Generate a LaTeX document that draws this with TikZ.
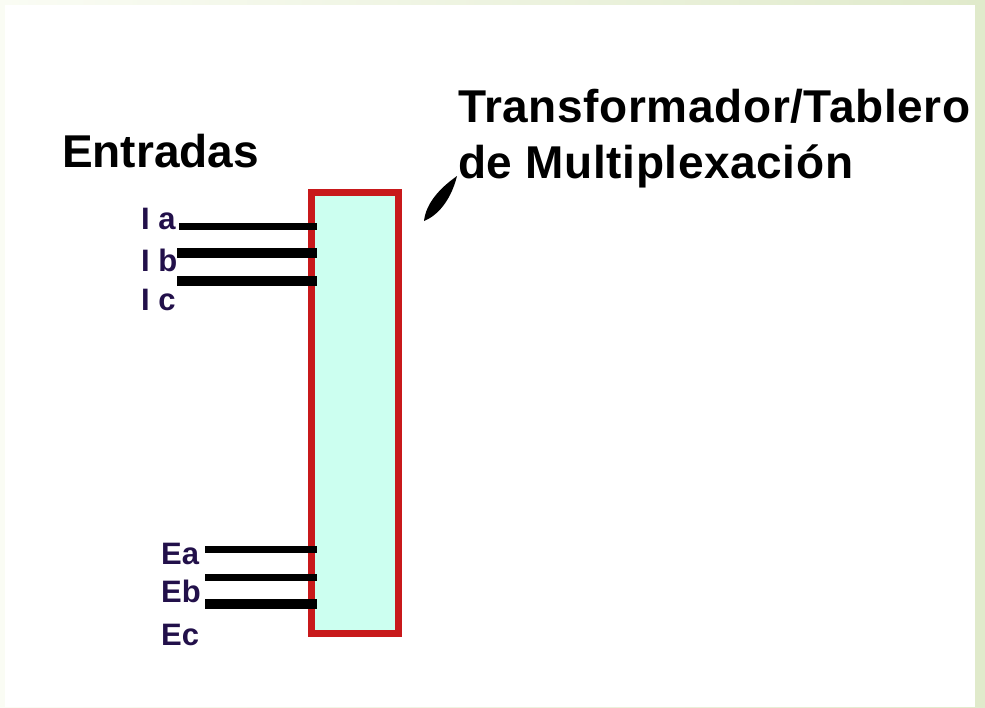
\documentclass[tikz,border=0pt]{standalone}
\usepackage{fontspec}
\setmainfont{Liberation Sans}
\definecolor{boxred}{HTML}{C8191B}
\definecolor{boxfill}{HTML}{CCFFF0}
\definecolor{lblcol}{HTML}{22104A}
\definecolor{frameL}{HTML}{FAFCF4}
\definecolor{frameR}{HTML}{E0EACB}
\tikzset{
  wire/.style={line width=7pt},
  thickwire/.style={line width=9.5pt},
  lbl/.style={font=\fontsize{31}{31}\selectfont\bfseries, text=lblcol, inner sep=0pt, anchor=west},
  heading/.style={font=\fontsize{46}{46}\selectfont\bfseries, inner sep=0pt, anchor=base west},
  title/.style={heading, font=\fontsize{46}{46}\selectfont\bfseries\addfontfeatures{LetterSpace=1.3}},
  muxbox/.style={draw=boxred, fill=boxfill, line width=7pt, rectangle, minimum width=87pt, minimum height=441pt, outer sep=0pt, inner sep=0pt}
}
\begin{document}
\begin{tikzpicture}[x=1pt,y=-1pt]
\useasboundingbox (0,0) rectangle (985,707);
\shade[left color=frameL, right color=frameR] (0,0) rectangle (985,707);
\fill[white] (5,5) rectangle (975,707);

\node[muxbox] (box) at (355,413) {};

\node[heading] (entr) at (62,167) {Entradas};
\node[title] (t1) at (458,122) {Transformador/Tablero};
\node[title] (t2) at (458,178) {de Multiplexación};

\fill (424,221) .. controls (426,203) and (440,188) .. (457,176)
      .. controls (452,196) and (441,214) .. cycle;

\node[lbl] (la) at (141,219) {I a};
\node[lbl] (lb) at (141,260) {I b};
\node[lbl] (lc) at (141,300) {I c};
\node[lbl] (le1) at (161,554) {Ea};
\node[lbl] (le2) at (161,591) {Eb};
\node[lbl] (le3) at (161,635) {Ec};

\coordinate (ia) at (179,226.5);
\coordinate (ib) at (177,253);
\coordinate (ic) at (177,281);
\coordinate (ea) at (205,549);
\coordinate (eb) at (205,577);
\coordinate (ec) at (205,604);

\draw[wire] (ia) -- ([xshift=5.5pt]ia -| box.west);
\draw[thickwire] (ib) -- ([xshift=5.5pt]ib -| box.west);
\draw[thickwire] (ic) -- ([xshift=5.5pt]ic -| box.west);
\draw[wire] (ea) -- ([xshift=5.5pt]ea -| box.west);
\draw[wire] (eb) -- ([xshift=5.5pt]eb -| box.west);
\draw[thickwire] (ec) -- ([xshift=5.5pt]ec -| box.west);
\end{tikzpicture}
\end{document}
